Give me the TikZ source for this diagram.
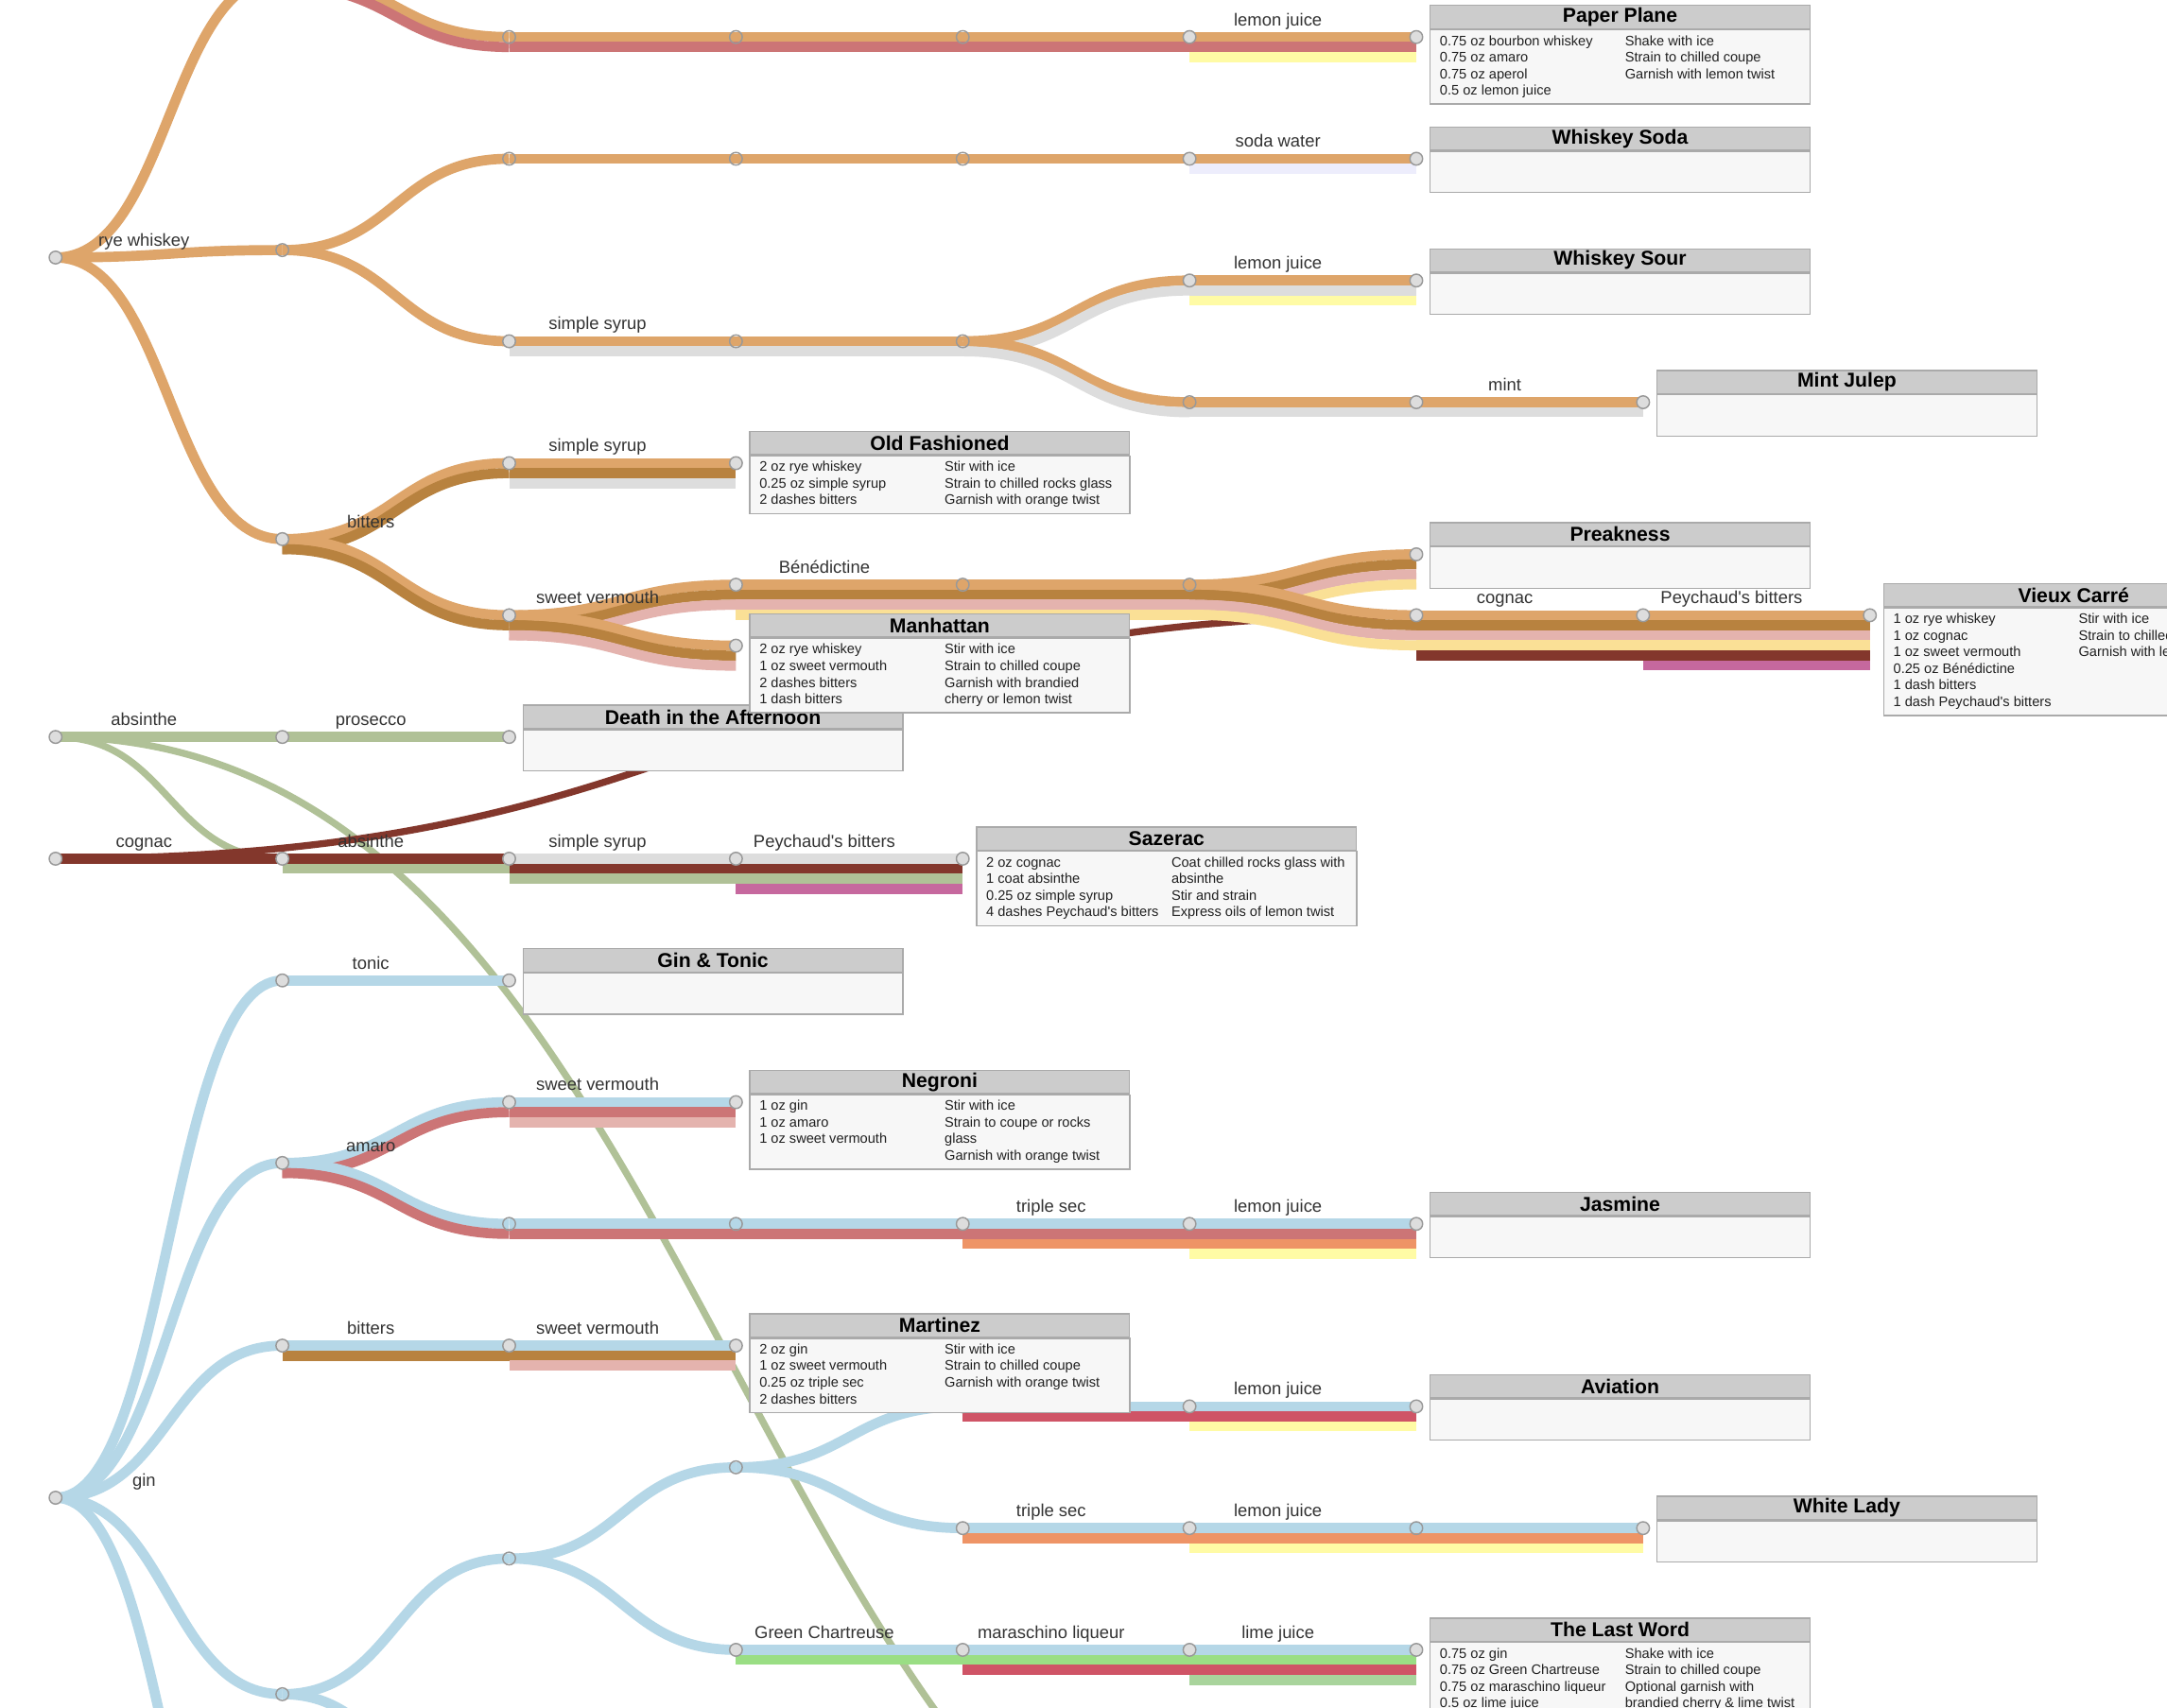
\documentclass[tikz,border=0pt]{standalone}
\usepackage{fontspec}
\setmainfont{Liberation Sans}
\usetikzlibrary{calc,backgrounds,positioning}
\definecolor{rye}{HTML}{DEA56A}
\definecolor{amaro}{HTML}{CC7576}
\definecolor{lemon}{HTML}{FFFBA5}
\definecolor{soda}{HTML}{EDEDFC}
\definecolor{syrup}{HTML}{DDDDDD}
\definecolor{bitters}{HTML}{B8823F}
\definecolor{vermouth}{HTML}{E4B3AE}
\definecolor{bened}{HTML}{FAE096}
\definecolor{cognac}{HTML}{83372C}
\definecolor{peych}{HTML}{C6689E}
\definecolor{absinthe}{HTML}{B0C197}
\definecolor{gin}{HTML}{B5D7E7}
\definecolor{triple}{HTML}{EE9466}
\definecolor{maras}{HTML}{CF5466}
\definecolor{chart}{HTML}{9ADE84}
\definecolor{lime}{HTML}{A9D49C}
\definecolor{stnfill}{HTML}{DDDDDD}
\definecolor{stnline}{HTML}{999999}
\definecolor{headgrey}{HTML}{CCCCCC}
\definecolor{cardfill}{HTML}{F7F7F7}
\definecolor{cardline}{HTML}{AAAAAA}
\definecolor{lbltext}{HTML}{333333}
\tikzset{
  rail/.style={line width=7.3pt, line cap=butt},
  link/.style={line width=5pt, line cap=butt},
  station/.style={circle, draw=stnline, fill=stnfill, line width=1pt, minimum size=9.2pt, inner sep=0pt},
  transit/.style={station, fill=none},
  lbl/.style={anchor=base, inner sep=0pt, text=lbltext, font=\fontsize{12.6}{14}\selectfont},
  cardhead/.style={draw=cardline, fill=headgrey, line width=0.9pt, minimum width=274.8pt, minimum height=16.8pt,
    inner sep=0pt, anchor=north west, font=\bfseries\fontsize{14.5}{17}\selectfont},
  cardbody/.style={draw=cardline, fill=cardfill, line width=0.9pt, minimum width=274.8pt, minimum height=29.8pt,
    inner xsep=7pt, inner ysep=2.9pt, text=black!87, font=\fontsize{10}{12}\selectfont},
}
\newcommand\gap{7.25}
% one coloured band from station to station, #4 = place in the bundle
\newcommand\seg[4]{%
  \draw[rail, draw=#3] let \p1=(#1), \p2=(#2) in
    (\x1,{\y1-#4*\gap}) .. controls ({0.5*\x1+0.5*\x2},{\y1-#4*\gap})
    and ({0.5*\x1+0.5*\x2},{\y2-#4*\gap}) .. (\x2,{\y2-#4*\gap});}
% thin line from an ingredient to where it is used again
\newcommand\hop[3]{%
  \draw[link, draw=#3] let \p1=(#1), \p2=(#2) in
    (\x1,\y1) .. controls ({0.5*\x1+0.5*\x2},\y1) and ({0.5*\x1+0.5*\x2},\y2) .. (\x2,\y2);}
% a band through a chain of stations
\newcommand\stripe[3]{%
  \gdef\lastst{}%
  \foreach \n in {#3}{%
    \ifx\lastst\empty\else
      \edef\segnow{\noexpand\seg{\lastst}{\n}{#1}{#2}}\segnow
    \fi
    \xdef\lastst{\n}}}
\newcommand\ingr[2]{\node[lbl] (#1-tag) at ([shift={(64pt,8.3pt)}]#1.center) {#2};}
\newcommand\rows[1]{\begin{tabular}{@{}p{134pt}@{}p{127pt}@{}}#1\end{tabular}}
\newcommand\card[4]{%
  \node[cardhead] (#1) at ([shift={(9.6pt,23.4pt)}]#2.center) {#3};
  \node[cardbody, below right=0pt and 0pt of #1.south west] (#1-body) {#4};}

\begin{document}
\begin{tikzpicture}[x=1pt,y=-1pt]
  \useasboundingbox (0,0) rectangle (1568,1236);
  % rye whiskey
  \node[station] (r0) at (40.2,186.4) {};
  \coordinate (r1a) at (204.3,-17.3);
  \node[transit] (r1b) at (204.3,181) {};
  \node[station] (r1c) at (204.3,390.2) {};
  \node[transit] (pp2) at (368.4,26.8) {};
  \node[transit] (pp3) at (532.5,26.8) {};
  \node[transit] (pp4) at (696.6,26.8) {};
  \node[station] (pp5) at (860.7,26.8) {};
  \node[station] (pp6) at (1024.8,26.8) {};
  \node[transit] (ws2) at (368.4,114.9) {};
  \node[transit] (ws3) at (532.5,114.9) {};
  \node[transit] (ws4) at (696.6,114.9) {};
  \node[station] (ws5) at (860.7,114.9) {};
  \node[station] (ws6) at (1024.8,114.9) {};
  \node[station] (sy2) at (368.4,247) {};
  \node[transit] (sy3) at (532.5,247) {};
  \node[transit] (sy4) at (696.6,247) {};
  \node[station] (wr5) at (860.7,203) {};
  \node[station] (wr6) at (1024.8,203) {};
  \node[transit] (mj5) at (860.7,291.1) {};
  \node[station] (mj6) at (1024.8,291.1) {};
  \node[station] (mj7) at (1188.9,291.1) {};
  \node[station] (of2) at (368.4,335.2) {};
  \node[station] (of3) at (532.5,335.2) {};
  \node[station] (sv2) at (368.4,445.3) {};
  \node[station] (bn3) at (532.5,423.2) {};
  \node[transit] (bn4) at (696.6,423.2) {};
  \node[transit] (bn5) at (860.7,423.2) {};
  \node[station] (pk6) at (1024.8,401.2) {};
  \node[station] (vc6) at (1024.8,445.3) {};
  \node[station] (vc7) at (1188.9,445.3) {};
  \node[station] (vc8) at (1353,445.3) {};
  \node[station] (mh3) at (532.5,467.3) {};
  % absinthe and cognac
  \node[station] (a0) at (40.2,533.4) {};
  \node[station] (a1) at (204.3,533.4) {};
  \node[station] (a2) at (368.4,533.4) {};
  \coordinate (ax) at (1024.8,1452);
  \node[station] (c0) at (40.2,621.5) {};
  \node[station] (c1) at (204.3,621.5) {};
  \node[station] (c2) at (368.4,621.5) {};
  \node[station] (c3) at (532.5,621.5) {};
  \node[station] (c4) at (696.6,621.5) {};
  % gin
  \node[station] (g0) at (40.2,1084) {};
  \coordinate (gx1) at (204.3,1458.4);
  \node[station] (gt1) at (204.3,709.6) {};
  \node[station] (gt2) at (368.4,709.6) {};
  \node[station] (ga1) at (204.3,841.7) {};
  \node[station] (ng2) at (368.4,797.7) {};
  \node[station] (ng3) at (532.5,797.7) {};
  \node[transit] (js2) at (368.4,885.8) {};
  \node[transit] (js3) at (532.5,885.8) {};
  \node[station] (js4) at (696.6,885.8) {};
  \node[station] (js5) at (860.7,885.8) {};
  \node[station] (js6) at (1024.8,885.8) {};
  \node[station] (mz1) at (204.3,973.9) {};
  \node[station] (mz2) at (368.4,973.9) {};
  \node[station] (mz3) at (532.5,973.9) {};
  \node[transit] (gl1) at (204.3,1226.2) {};
  \coordinate (gx2) at (368.4,1324.3);
  \node[transit] (gl2) at (368.4,1128) {};
  \node[transit] (av3) at (532.5,1062) {};
  \node[station] (av4) at (696.6,1017.9) {};
  \node[station] (av5) at (860.7,1017.9) {};
  \node[station] (av6) at (1024.8,1017.9) {};
  \node[station] (wl4) at (696.6,1106) {};
  \node[station] (wl5) at (860.7,1106) {};
  \node[transit] (wl6) at (1024.8,1106) {};
  \node[station] (wl7) at (1188.9,1106) {};
  \node[station] (lw3) at (532.5,1194.1) {};
  \node[station] (lw4) at (696.6,1194.1) {};
  \node[station] (lw5) at (860.7,1194.1) {};
  \node[station] (lw6) at (1024.8,1194.1) {};

  \begin{scope}[on background layer]
    \fill[white] (0,0) rectangle (1568,1236);
    % links to an ingredient used further on
    \hop{a0}{ax}{absinthe}
    \hop{a0}{c1}{absinthe}
    \hop{c0}{vc6}{cognac}
    % rye whiskey routes
    \stripe{rye}{0}{r0,r1a,pp2,pp3,pp4,pp5,pp6}
    \stripe{amaro}{1}{r1a,pp2,pp3,pp4,pp5,pp6}
    \stripe{lemon}{2}{pp5,pp6}
    \stripe{rye}{0}{r0,r1b,ws2,ws3,ws4,ws5,ws6}
    \stripe{soda}{1}{ws5,ws6}
    \stripe{rye}{0}{r1b,sy2,sy3,sy4,wr5,wr6}
    \stripe{syrup}{1}{sy2,sy3,sy4,wr5,wr6}
    \stripe{lemon}{2}{wr5,wr6}
    \stripe{rye}{0}{sy4,mj5,mj6,mj7}
    \stripe{syrup}{1}{sy4,mj5,mj6,mj7}
    \stripe{rye}{0}{r0,r1c,of2,of3}
    \stripe{bitters}{1}{r1c,of2,of3}
    \stripe{syrup}{2}{of2,of3}
    \stripe{rye}{0}{r1c,sv2,bn3,bn4,bn5,pk6}
    \stripe{bitters}{1}{r1c,sv2,bn3,bn4,bn5,pk6}
    \stripe{vermouth}{2}{sv2,bn3,bn4,bn5,pk6}
    \stripe{bened}{3}{bn3,bn4,bn5,pk6}
    \stripe{rye}{0}{bn5,vc6,vc7,vc8}
    \stripe{bitters}{1}{bn5,vc6,vc7,vc8}
    \stripe{vermouth}{2}{bn5,vc6,vc7,vc8}
    \stripe{bened}{3}{bn5,vc6,vc7,vc8}
    \stripe{cognac}{4}{vc6,vc7,vc8}
    \stripe{peych}{5}{vc7,vc8}
    \stripe{rye}{0}{sv2,mh3}
    \stripe{bitters}{1}{sv2,mh3}
    \stripe{vermouth}{2}{sv2,mh3}
    % absinthe and cognac routes
    \stripe{absinthe}{0}{a0,a1,a2}
    \stripe{cognac}{0}{c0,c1,c2}
    \stripe{absinthe}{1}{c1,c2}
    \stripe{syrup}{0}{c2,c3,c4}
    \stripe{cognac}{1}{c2,c3,c4}
    \stripe{absinthe}{2}{c2,c3,c4}
    \stripe{peych}{3}{c3,c4}
    % gin routes
    \stripe{gin}{0}{g0,gt1,gt2}
    \stripe{gin}{0}{g0,ga1,ng2,ng3}
    \stripe{amaro}{1}{ga1,ng2,ng3}
    \stripe{vermouth}{2}{ng2,ng3}
    \stripe{gin}{0}{ga1,js2,js3,js4,js5,js6}
    \stripe{amaro}{1}{ga1,js2,js3,js4,js5,js6}
    \stripe{triple}{2}{js4,js5,js6}
    \stripe{lemon}{3}{js5,js6}
    \stripe{gin}{0}{g0,mz1,mz2,mz3}
    \stripe{bitters}{1}{mz1,mz2,mz3}
    \stripe{vermouth}{2}{mz2,mz3}
    \stripe{gin}{0}{g0,gl1,gl2,av3,av4,av5,av6}
    \stripe{maras}{1}{av4,av5,av6}
    \stripe{lemon}{2}{av5,av6}
    \stripe{gin}{0}{av3,wl4,wl5,wl6,wl7}
    \stripe{triple}{1}{wl4,wl5,wl6,wl7}
    \stripe{lemon}{2}{wl5,wl6,wl7}
    \stripe{gin}{0}{gl2,lw3,lw4,lw5,lw6}
    \stripe{chart}{1}{lw3,lw4,lw5,lw6}
    \stripe{maras}{2}{lw4,lw5,lw6}
    \stripe{lime}{3}{lw5,lw6}
    \seg{g0}{gx1}{gin}{0}
    \seg{gl1}{gx2}{gin}{0}
  \end{scope}

  % ingredient labels
  \ingr{r0}{rye whiskey}
  \ingr{pp5}{lemon juice}
  \ingr{ws5}{soda water}
  \ingr{sy2}{simple syrup}
  \ingr{wr5}{lemon juice}
  \ingr{mj6}{mint}
  \ingr{r1c}{bitters}
  \ingr{of2}{simple syrup}
  \ingr{sv2}{sweet vermouth}
  \ingr{bn3}{Bénédictine}
  \ingr{vc6}{cognac}
  \ingr{vc7}{Peychaud\textquotesingle s bitters}
  \ingr{a0}{absinthe}
  \ingr{a1}{prosecco}
  \ingr{c0}{cognac}
  \ingr{c1}{absinthe}
  \ingr{c2}{simple syrup}
  \ingr{c3}{Peychaud\textquotesingle s bitters}
  \ingr{g0}{gin}
  \ingr{gt1}{tonic}
  \ingr{ga1}{amaro}
  \ingr{ng2}{sweet vermouth}
  \ingr{js4}{triple sec}
  \ingr{js5}{lemon juice}
  \ingr{mz1}{bitters}
  \ingr{mz2}{sweet vermouth}
  \ingr{av5}{lemon juice}
  \ingr{wl4}{triple sec}
  \ingr{wl5}{lemon juice}
  \ingr{lw3}{Green Chartreuse}
  \ingr{lw4}{maraschino liqueur}
  \ingr{lw5}{lime juice}

  % recipe cards
  \card{dac}{a2}{Death in the Afternoon}{}
  \card{ppc}{pp6}{Paper Plane}{\rows{0.75 oz bourbon whiskey & Shake with ice\\
    0.75 oz amaro & Strain to chilled coupe\\ 0.75 oz aperol & Garnish with lemon twist\\ 0.5 oz lemon juice & }}
  \card{wsc}{ws6}{Whiskey Soda}{}
  \card{wrc}{wr6}{Whiskey Sour}{}
  \card{mjc}{mj7}{Mint Julep}{}
  \card{ofc}{of3}{Old Fashioned}{\rows{2 oz rye whiskey & Stir with ice\\
    0.25 oz simple syrup & Strain to chilled rocks glass\\ 2 dashes bitters & Garnish with orange twist}}
  \card{pkc}{pk6}{Preakness}{}
  \card{vcc}{vc8}{Vieux Carré}{\rows{1 oz rye whiskey & Stir with ice\\ 1 oz cognac & Strain to chilled coupe\\
    1 oz sweet vermouth & Garnish with lemon twist\\ 0.25 oz Bénédictine & \\ 1 dash bitters & \\
    1 dash Peychaud\textquotesingle s bitters & }}
  \card{mhc}{mh3}{Manhattan}{\rows{2 oz rye whiskey & Stir with ice\\ 1 oz sweet vermouth & Strain to chilled coupe\\
    2 dashes bitters & Garnish with brandied\\ 1 dash bitters & cherry or lemon twist}}
  \card{szc}{c4}{Sazerac}{\rows{2 oz cognac & Coat chilled rocks glass with\\ 1 coat absinthe & absinthe\\
    0.25 oz simple syrup & Stir and strain\\ 4 dashes Peychaud\textquotesingle s bitters & Express oils of lemon twist}}
  \card{gtc}{gt2}{Gin \& Tonic}{}
  \card{ngc}{ng3}{Negroni}{\rows{1 oz gin & Stir with ice\\ 1 oz amaro & Strain to coupe or rocks\\
    1 oz sweet vermouth & glass\\ & Garnish with orange twist}}
  \card{jsc}{js6}{Jasmine}{}
  \card{mzc}{mz3}{Martinez}{\rows{2 oz gin & Stir with ice\\ 1 oz sweet vermouth & Strain to chilled coupe\\
    0.25 oz triple sec & Garnish with orange twist\\ 2 dashes bitters & }}
  \card{avc}{av6}{Aviation}{}
  \card{wlc}{wl7}{White Lady}{}
  \card{lwc}{lw6}{The Last Word}{\rows{0.75 oz gin & Shake with ice\\ 0.75 oz Green Chartreuse & Strain to chilled coupe\\
    0.75 oz maraschino liqueur & Optional garnish with\\ 0.5 oz lime juice & brandied cherry \& lime twist}}
\end{tikzpicture}
\end{document}
